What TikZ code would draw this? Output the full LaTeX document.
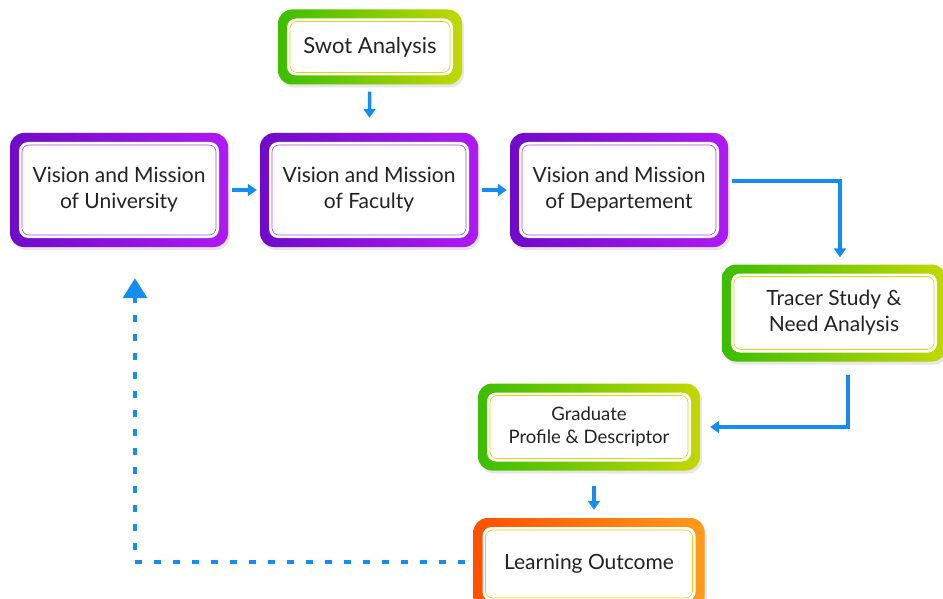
\documentclass[tikz,border=0pt]{standalone}
\usepackage{fontspec}
\setmainfont{Lato}
\usetikzlibrary{arrows.meta,shadows}

\definecolor{purpleA}{RGB}{112,10,200}
\definecolor{purpleB}{RGB}{175,25,245}
\definecolor{greenA}{RGB}{60,190,0}
\definecolor{greenB}{RGB}{195,215,0}
\definecolor{orangeA}{RGB}{255,80,0}
\definecolor{orangeB}{RGB}{255,155,25}
\definecolor{flowblue}{RGB}{20,140,240}
\definecolor{txtgray}{RGB}{35,35,35}

\tikzset{
  framebox/.style n args={3}{rounded corners=14pt, left color=#1, right color=#2,
    text=txtgray, align=center, font=\fontsize{21}{26}\selectfont,
    drop shadow={opacity=0.2, shadow xshift=2pt, shadow yshift=-3pt},
    path picture={
      \fill[white, rounded corners=9pt]
        ([shift={(9pt,9pt)}]path picture bounding box.south west) rectangle
        ([shift={(-9pt,-9pt)}]path picture bounding box.north east);
      \draw[#3, line width=0.6pt, rounded corners=7pt]
        ([shift={(12pt,12pt)}]path picture bounding box.south west) rectangle
        ([shift={(-12pt,-12pt)}]path picture bounding box.north east);
    }},
  violetbox/.style={framebox={purpleA}{purpleB}{purpleA!70}, minimum width=218pt, minimum height=114pt},
  greenbox/.style={framebox={greenA}{greenB}{greenB!80!yellow}},
  orangebox/.style={framebox={orangeA}{orangeB}{orangeB!60!yellow}},
  flow/.style={draw=flowblue, line width=3.5pt, -{Triangle[length=9pt, width=12pt]}},
  feedback/.style={draw=flowblue, line width=3.5pt, dash pattern=on 7pt off 12pt,
    -{Triangle[length=20pt, width=24pt]}}
}

\begin{document}
\begin{tikzpicture}[x=1pt, y=-1pt]
\useasboundingbox (0,0) rectangle (943,599);

\node[greenbox, minimum width=184pt, minimum height=75pt, font=\fontsize{22}{26}\selectfont] (swot) at (370,47) {Swot Analysis};
\node[violetbox] (univ) at (119,190) {Vision and Mission\\of University};
\node[violetbox] (fac) at (369,190) {Vision and Mission\\of Faculty};
\node[violetbox] (dept) at (619,190) {Vision and Mission\\of Departement};
\node[greenbox, minimum width=224pt, minimum height=97pt] (tracer) at (834,313) {Tracer Study \&\\Need Analysis};
\node[greenbox, minimum width=222pt, minimum height=87pt, font=\fontsize{18.5}{23}\selectfont] (grad) at (589,427) {Graduate\\Profile \& Descriptor};
\node[orangebox, minimum width=231pt, minimum height=92pt] (learn) at (589,564) {Learning Outcome};

% arrows
\draw[flow, shorten <=7pt, shorten >=15pt] (swot) -- (fac);
\draw[flow, shorten <=4pt, shorten >=3pt] (univ) -- (fac);
\draw[flow, shorten <=4pt, shorten >=3pt] (fac) -- (dept);
\draw[flow, shorten <=4pt, shorten >=7pt] ([yshift=9pt]dept.east) -| ([xshift=6pt]tracer.north);
\draw[flow, shorten <=13pt, shorten >=10pt] ([xshift=14pt]tracer.south) |- (grad.east);
\draw[flow, shorten <=15pt, shorten >=8pt] ([xshift=5pt]grad.south) -- ([xshift=5pt]learn.north);
\draw[feedback, shorten <=8pt, shorten >=31pt] ([yshift=2pt]learn.west) -| ([xshift=16pt]univ.south);
\end{tikzpicture}
\end{document}
